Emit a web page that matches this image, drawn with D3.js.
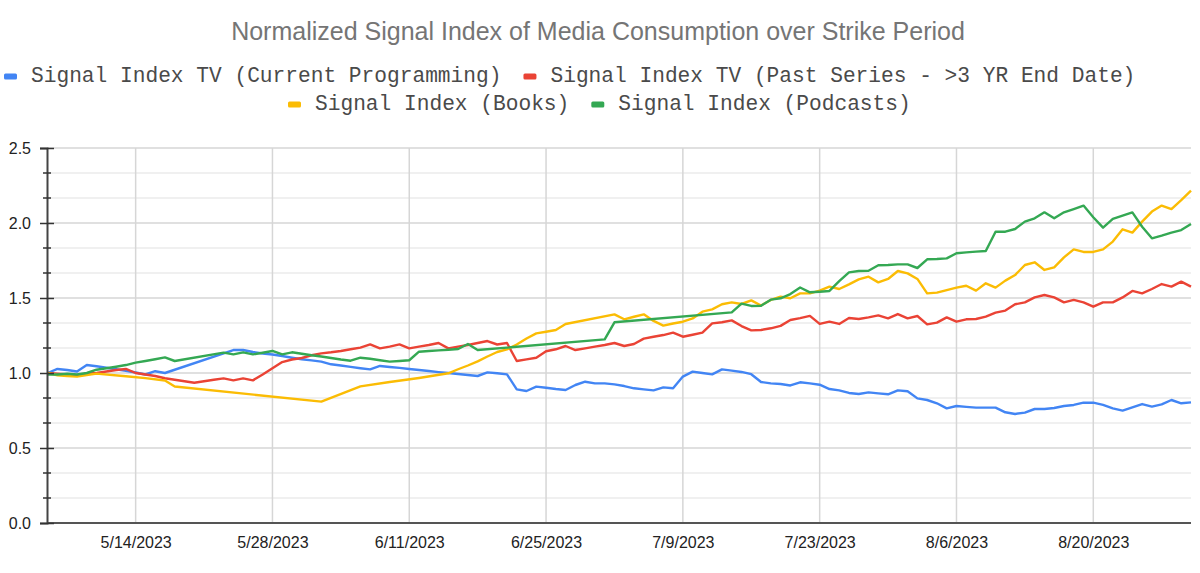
<!DOCTYPE html>
<html>
<head>
<meta charset="utf-8">
<script src="https://cdn.jsdelivr.net/npm/d3@7"></script>
<style>
  body { margin: 0; background: #fff; }
  svg { display: block; }
</style>
</head>
<body>
<svg id="chart" width="1200" height="573"></svg>
<script>
// Normalized Signal Index of Media Consumption over Strike Period
// one value per day from 5/5/2023 to 8/30/2023, null = no reading that day

const firstDay = "5/5/2023";
const lastDay = "8/30/2023";

const tvCurrent = [
  1.000, 1.027, 1.020, 1.010, 1.053, 1.045, 1.035, 1.025, 1.015, 1.003,
  0.990, 1.012, 1.000, null, null, null, null, null, null, 1.153,
  1.153, 1.140, 1.130, 1.123, 1.113, 1.102, 1.092, 1.084, 1.076, 1.058,
  1.050, 1.041, 1.032, 1.024, 1.047, 1.040, 1.034, 1.027, 1.020, 1.013,
  1.006, 1.000, 0.993, 0.987, 0.980, 1.004, 0.998, 0.991, 0.891, 0.880,
  0.909, 0.902, 0.893, 0.887, 0.920, 0.942, 0.931, 0.931, 0.924, 0.913,
  0.898, 0.891, 0.884, 0.904, 0.898, 0.976, 1.009, 1.000, 0.991, 1.024,
  1.016, 1.007, 0.992, 0.940, 0.931, 0.927, 0.917, 0.938, 0.931, 0.922,
  0.893, 0.884, 0.867, 0.860, 0.871, 0.864, 0.858, 0.884, 0.878, 0.831,
  0.820, 0.798, 0.764, 0.780, 0.774, 0.769, 0.769, 0.769, 0.738, 0.727,
  0.736, 0.760, 0.760, 0.767, 0.780, 0.787, 0.802, 0.802, 0.787, 0.764,
  0.749, 0.771, 0.793, 0.776, 0.791, 0.820, 0.798, 0.804
];

const tvPast = [
  1.000, 0.995, 0.990, 0.985, 0.995, 1.000, 1.010, 1.020, 1.027, 1.000,
  0.990, 0.980, 0.965, 0.955, 0.945, 0.935, 0.945, 0.955, 0.964, 0.951,
  0.964, 0.951, 0.990, 1.031, 1.073, 1.090, 1.100, 1.118, 1.131, 1.138,
  1.147, 1.158, 1.169, 1.191, 1.164, 1.176, 1.191, 1.164, 1.176, 1.187,
  1.200, 1.164, 1.176, 1.187, 1.200, 1.213, 1.190, 1.200, 1.080, 1.091,
  1.102, 1.145, 1.158, 1.180, 1.153, 1.164, 1.176, 1.187, 1.200, 1.180,
  1.193, 1.229, 1.242, 1.253, 1.269, 1.242, 1.255, 1.269, 1.331, 1.338,
  1.351, 1.313, 1.284, 1.287, 1.298, 1.314, 1.353, 1.366, 1.381, 1.327,
  1.342, 1.327, 1.367, 1.360, 1.371, 1.384, 1.364, 1.393, 1.364, 1.380,
  1.324, 1.336, 1.371, 1.342, 1.358, 1.360, 1.376, 1.402, 1.416, 1.458,
  1.471, 1.504, 1.520, 1.504, 1.471, 1.487, 1.471, 1.442, 1.471, 1.471,
  1.504, 1.547, 1.531, 1.560, 1.593, 1.576, 1.609, 1.576
];

const books = [
  1.000, 0.985, 0.980, 0.976, 0.987, 0.996, null, null, 0.978, null,
  0.966, null, 0.950, 0.910, null, null, null, null, null, null,
  null, null, null, null, null, null, null, null, 0.809, null,
  null, null, 0.911, null, null, 0.940, null, null, 0.967, null,
  null, 0.998, 1.025, 1.050, 1.078, 1.110, 1.140, 1.158, 1.190, 1.230,
  1.264, 1.275, 1.287, 1.327, null, null, null, null, 1.391, 1.358,
  1.375, 1.391, 1.347, 1.316, 1.330, 1.342, 1.364, 1.409, 1.424, 1.458,
  1.471, 1.460, 1.484, 1.450, 1.487, 1.509, 1.498, 1.531, 1.531, 1.549,
  1.576, 1.560, 1.591, 1.624, 1.642, 1.604, 1.627, 1.680, 1.664, 1.627,
  1.531, 1.536, 1.553, 1.569, 1.582, 1.549, 1.598, 1.569, 1.616, 1.653,
  1.720, 1.738, 1.687, 1.704, 1.771, 1.824, 1.807, 1.807, 1.824, 1.876,
  1.958, 1.936, 2.009, 2.076, 2.116, 2.093, 2.153, 2.216
];

const podcasts = [
  0.990, 0.990, 0.995, 0.990, 1.000, 1.022, 1.032, 1.042, 1.053, 1.069,
  1.080, 1.092, 1.104, 1.080, null, null, null, null, 1.136, 1.124,
  1.138, 1.124, null, 1.147, 1.124, 1.138, 1.128, 1.118, 1.110, 1.100,
  1.090, 1.082, 1.102, 1.095, 1.085, 1.076, 1.080, 1.085, 1.142, 1.147,
  1.151, 1.155, 1.160, 1.193, 1.153, null, null, null, null, null,
  null, null, null, null, null, null, null, 1.224, 1.338, null,
  null, null, null, null, null, null, null, null, null, null,
  1.404, 1.462, 1.447, 1.448, 1.489, 1.498, 1.526, 1.570, 1.538, 1.542,
  1.547, 1.612, 1.671, 1.680, 1.682, 1.718, 1.720, 1.724, 1.724, 1.700,
  1.758, 1.760, 1.764, 1.798, 1.804, 1.809, 1.813, 1.942, 1.942, 1.960,
  2.009, 2.031, 2.071, 2.031, 2.071, 2.093, 2.116, 2.038, 1.969, 2.027,
  2.049, 2.071, 1.975, 1.898, 1.916, 1.936, 1.953, 1.993
];

const seriesNames = [
  "Signal Index TV (Current Programming)",
  "Signal Index TV (Past Series - >3 YR End Date)",
  "Signal Index (Books)",
  "Signal Index (Podcasts)"
];
const seriesColors = ["#4285f4", "#ea4335", "#fbbc04", "#34a853"];
const xTickLabels = ["5/14/2023", "5/28/2023", "6/11/2023", "6/25/2023",
  "7/9/2023", "7/23/2023", "8/6/2023", "8/20/2023"];
const yTicks = [0, 0.5, 1.0, 1.5, 2.0, 2.5];

const parseDate = d3.timeParse("%m/%d/%Y");
const days = d3.timeDay.range(parseDate(firstDay), d3.timeDay.offset(parseDate(lastDay), 1));

const svg = d3.select("#chart");
const plot = { left: 47.7, right: 1191, top: 148, bottom: 523 };

const x = d3.scaleTime()
  .domain([parseDate(firstDay), parseDate(lastDay)])
  .range([plot.left, plot.right]);
const y = d3.scaleLinear().domain([0, 2.5]).range([plot.bottom, plot.top]);

// minor ticks: two between each major tick
const minorTicks = [];
yTicks.slice(1).forEach((t) => {
  minorTicks.push(t - 0.5 / 3, t - 1 / 3);
});

// Title
svg.append("text")
  .attr("x", 598)
  .attr("y", 40)
  .attr("text-anchor", "middle")
  .attr("font-family", "Arial, 'Liberation Sans', sans-serif")
  .attr("font-size", 25)
  .attr("fill", "#757575")
  .text("Normalized Signal Index of Media Consumption over Strike Period");

// Legend
const legendRows = [
  { start: 4, baseline: 82, items: [0, 1] },
  { start: 288, baseline: 110, items: [2, 3] }
];
legendRows.forEach((row) => {
  let cx = row.start;
  row.items.forEach((i) => {
    svg.append("rect")
      .attr("x", cx)
      .attr("y", row.baseline - 8.5)
      .attr("width", 13)
      .attr("height", 6)
      .attr("rx", 1.5)
      .attr("fill", seriesColors[i]);
    const t = svg.append("text")
      .attr("x", cx + 27)
      .attr("y", row.baseline)
      .attr("font-family", "'Liberation Mono', 'Courier New', monospace")
      .attr("font-size", 21.2)
      .attr("fill", "#4a4a4a")
      .text(seriesNames[i]);
    cx += 27 + t.node().getComputedTextLength() + 22;
  });
});

// Gridlines
const grid = svg.append("g");
grid.selectAll(".minor")
  .data(minorTicks)
  .join("line")
  .attr("x1", plot.left - 0.7)
  .attr("x2", plot.right)
  .attr("y1", (d) => y(d))
  .attr("y2", (d) => y(d))
  .attr("stroke", "#ebebeb")
  .attr("stroke-width", 1.5);
grid.selectAll(".major")
  .data(yTicks)
  .join("line")
  .attr("x1", plot.left - 0.7)
  .attr("x2", plot.right)
  .attr("y1", (d) => y(d))
  .attr("y2", (d) => y(d))
  .attr("stroke", "#d6d6d6")
  .attr("stroke-width", 1.5);

const xTickDates = xTickLabels.map(parseDate);
grid.selectAll(".vgrid")
  .data(xTickDates)
  .join("line")
  .attr("x1", (d) => x(d))
  .attr("x2", (d) => x(d))
  .attr("y1", plot.top)
  .attr("y2", plot.bottom)
  .attr("stroke", "#d6d6d6")
  .attr("stroke-width", 1.5);

// Lines
const line = d3.line()
  .x((d) => x(d.date))
  .y((d) => y(d.value));

[tvCurrent, tvPast, books, podcasts].forEach((values, i) => {
  const pts = values
    .map((v, k) => ({ date: days[k], value: v }))
    .filter((d) => d.value !== null);
  svg.append("path")
    .datum(pts)
    .attr("fill", "none")
    .attr("stroke", seriesColors[i])
    .attr("stroke-width", 2.4)
    .attr("stroke-linejoin", "round")
    .attr("d", line);
});

// X axis
const xAxis = svg.append("g")
  .attr("transform", `translate(0,${plot.bottom})`)
  .call(d3.axisBottom(x).tickValues(xTickDates).tickSize(0).tickPadding(0)
    .tickFormat(d3.timeFormat("%-m/%-d/%Y")));
xAxis.select(".domain").remove();
xAxis.selectAll("text")
  .attr("dy", 0)
  .attr("y", 25)
  .attr("font-family", "Arial, 'Liberation Sans', sans-serif")
  .attr("font-size", 16)
  .attr("fill", "#222");
svg.append("line")
  .attr("x1", plot.left - 0.7)
  .attr("x2", plot.right)
  .attr("y1", plot.bottom)
  .attr("y2", plot.bottom)
  .attr("stroke", "#555")
  .attr("stroke-width", 2);

// Y axis
const yAxis = svg.append("g")
  .attr("transform", `translate(${plot.left - 0.7},0)`)
  .call(d3.axisLeft(y).tickValues(yTicks).tickSize(7).tickPadding(9)
    .tickFormat(d3.format(".1f")));
yAxis.select(".domain").attr("stroke", "#444").attr("stroke-width", 2);
yAxis.selectAll(".tick line")
  .attr("x1", -7).attr("x2", 7)
  .attr("stroke", "#333").attr("stroke-width", 1.5);
yAxis.selectAll("text")
  .attr("font-family", "Arial, 'Liberation Sans', sans-serif")
  .attr("font-size", 16)
  .attr("fill", "#222");
yAxis.selectAll(".minor-tick")
  .data(minorTicks)
  .join("line")
  .attr("x1", -4).attr("x2", 4)
  .attr("y1", (d) => y(d)).attr("y2", (d) => y(d))
  .attr("stroke", "#333").attr("stroke-width", 1.5);
</script>
</body>
</html>
